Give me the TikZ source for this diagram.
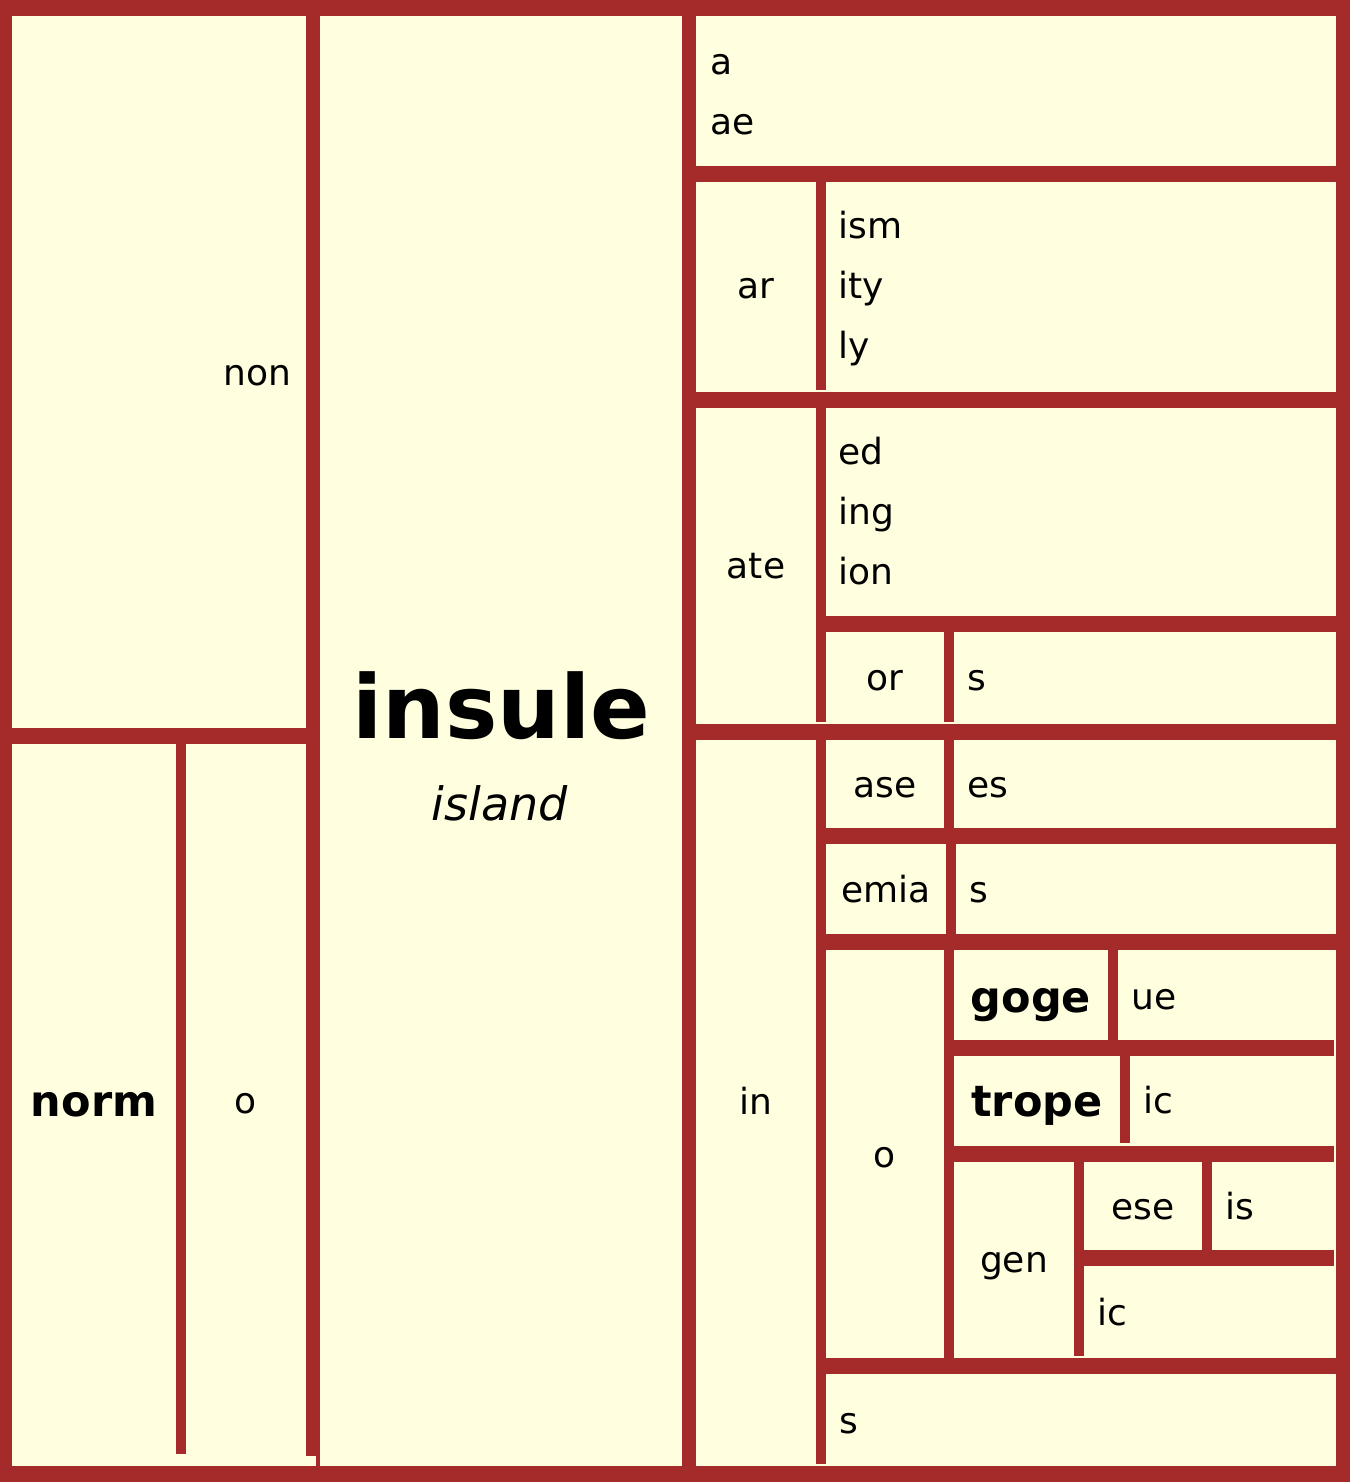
\documentclass[tikz,border=0pt]{standalone}
\usepackage{fontspec}
\setmainfont{DejaVu Sans}
\definecolor{barc}{HTML}{A52A2A}
\definecolor{cream}{HTML}{FFFFE0}
\begin{document}
\begin{tikzpicture}[x=0.5pt,y=-0.5pt,
  lbl/.style={inner sep=0pt, font=\fontsize{18}{18}\selectfont},
  blbl/.style={inner sep=0pt, font=\bfseries\fontsize{21.5}{21.5}\selectfont}]
\useasboundingbox (0,0) rectangle (1350,1484);
\fill[white] (0,0) rectangle (1350,1484);
\fill[cream] (0,0) rectangle (1350,1482);
% bars
\foreach \a/\b/\c/\d in {
  0/0/1350/16, 0/0/12/1482, 0/1466/1350/1482, 1336/0/1350/1482,
  12/728/306/744, 176/744/186/1454, 306/16/316/1456, 316/16/320/1466,
  682/16/696/1466,
  696/166/1336/182, 816/182/826/390, 696/392/1336/408, 816/408/826/722,
  826/616/1336/632, 944/632/954/722, 696/724/1336/740, 816/740/826/1464,
  944/740/954/828, 826/828/1336/844, 946/844/956/934, 826/934/1336/950,
  944/950/954/1360, 1108/950/1118/1040, 954/1040/1334/1056,
  1120/1056/1130/1143, 954/1146/1334/1162, 1074/1162/1084/1356,
  1202/1162/1212/1250, 1084/1250/1334/1266, 826/1358/1336/1374}
  \fill[barc] (\a,\b) rectangle (\c,\d);
% left column
\node[lbl, anchor=base east] (non) at (292,385) {non};
\node[blbl, anchor=base] (norm) at (94,1116) {norm};
\node[lbl, anchor=base] (o1) at (246,1113) {o};
% centre
\node[inner sep=0pt, anchor=base, font=\bfseries\fontsize{44}{44}\selectfont] (insule) at (501,738) {insule};
\node[inner sep=0pt, anchor=base, font=\itshape\fontsize{23}{23}\selectfont] (island) at (500,820) {island};
% right column
\node[lbl, anchor=base west] (a) at (710,74) {a};
\node[lbl, anchor=base west] (ae) at (710,134) {ae};
\node[lbl, anchor=base] (ar) at (756,298) {ar};
\node[lbl, anchor=base west] (ism) at (838,238) {ism};
\node[lbl, anchor=base west] (ity) at (838,298) {ity};
\node[lbl, anchor=base west] (ly) at (838,358) {ly};
\node[lbl, anchor=base] (ate) at (756,578) {ate};
\node[lbl, anchor=base west] (ed) at (838,464) {ed};
\node[lbl, anchor=base west] (ing) at (838,524) {ing};
\node[lbl, anchor=base west] (ion) at (838,584) {ion};
\node[lbl, anchor=base] (or) at (885,690) {or};
\node[lbl, anchor=base west] (s1) at (967,690) {s};
\node[lbl, anchor=base] (in) at (756,1114) {in};
\node[lbl, anchor=base] (ase) at (885,797) {ase};
\node[lbl, anchor=base west] (es) at (967,797) {es};
\node[lbl, anchor=base] (emia) at (886,902) {emia};
\node[lbl, anchor=base west] (s2) at (969,902) {s};
\node[lbl, anchor=base] (o2) at (885,1167) {o};
\node[blbl, anchor=base] (goge) at (1031,1012) {goge};
\node[lbl, anchor=base west] (ue) at (1131,1009) {ue};
\node[blbl, anchor=base] (trope) at (1037,1116) {trope};
\node[lbl, anchor=base west] (ic1) at (1143,1113) {ic};
\node[lbl, anchor=base] (gen) at (1014,1272) {gen};
\node[lbl, anchor=base] (ese) at (1143,1219) {ese};
\node[lbl, anchor=base west] (is) at (1225,1219) {is};
\node[lbl, anchor=base west] (ic2) at (1097,1325) {ic};
\node[lbl, anchor=base west] (s3) at (839,1433) {s};
\end{tikzpicture}
\end{document}
